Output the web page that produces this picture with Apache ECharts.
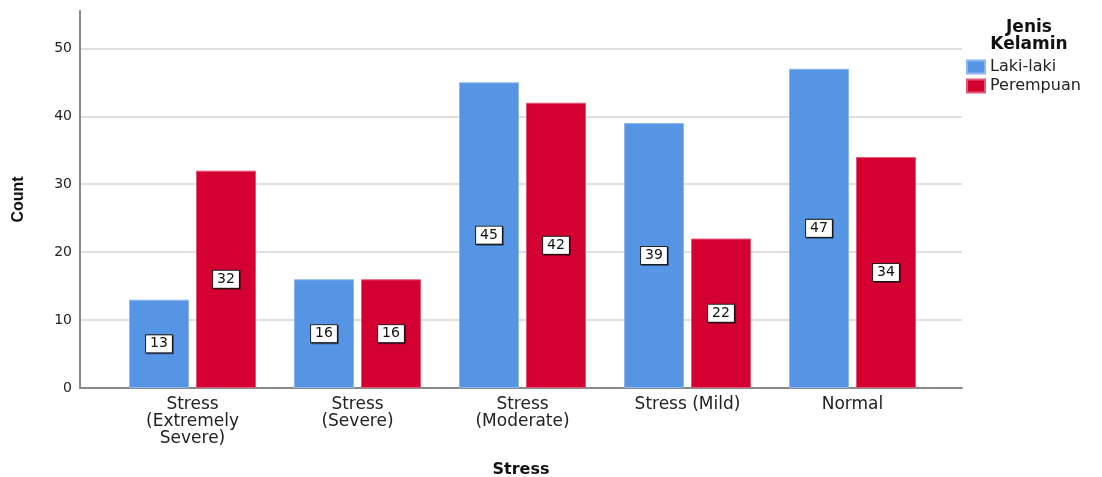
<!DOCTYPE html>
<html>
<head>
<meta charset="utf-8">
<script src="https://cdn.jsdelivr.net/npm/echarts@6/dist/echarts.min.js"></script>
<style>
html,body{margin:0;padding:0;background:#fff;}
#c{width:1102px;height:477px;}
</style>
</head>
<body>
<div id="c"></div>
<script>
const categories = ['Stress\n(Extremely\nSevere)', 'Stress\n(Severe)', 'Stress\n(Moderate)', 'Stress (Mild)', 'Normal'];
const seriesNames = ['Laki-laki', 'Perempuan'];
const lakiLaki = [13, 16, 45, 39, 47];
const perempuan = [32, 16, 42, 22, 34];
const legendTitle = 'Jenis\nKelamin';
const xTitle = 'Stress';
const yTitle = 'Count';

const FONT = 'DejaVu Sans';
const chart = echarts.init(document.getElementById('c'));

const labelStyle = {
  show: true,
  position: 'inside',
  color: '#111',
  fontFamily: FONT,
  fontSize: 14,
  backgroundColor: '#fff',
  borderColor: '#222',
  borderWidth: 1,
  padding: [2, 4, 1, 4],
  shadowColor: 'rgba(0,0,0,0.45)',
  shadowOffsetX: 1,
  shadowOffsetY: 1,
  shadowBlur: 0
};

chart.setOption({
  animation: false,
  backgroundColor: '#fff',
  grid: [
    { left: 80, right: 140, top: 11, bottom: 89, outerBoundsMode: 'none', containLabel: false },
    { left: 110, right: 167, top: 11, bottom: 89, outerBoundsMode: 'none', containLabel: false }
  ],
  xAxis: [
    {
      gridIndex: 0, type: 'value', min: 0, max: 1,
      axisLine: { show: true, lineStyle: { color: '#8a8a8a', width: 2 } },
      axisTick: { show: false }, axisLabel: { show: false }, splitLine: { show: false },
      name: xTitle, nameLocation: 'middle', nameGap: 74,
      nameTextStyle: { fontFamily: FONT, fontWeight: 'bold', fontSize: 16, color: '#111' }
    },
    {
      gridIndex: 1, type: 'category', data: categories,
      axisLine: { show: false }, axisTick: { show: false },
      axisLabel: { interval: 0, margin: 8, fontFamily: FONT, fontSize: 17, lineHeight: 17, color: '#222' }
    }
  ],
  yAxis: [
    {
      gridIndex: 0, type: 'value', min: 0, max: 55.5, interval: 10,
      axisLine: { show: true, lineStyle: { color: '#8a8a8a', width: 2 } },
      axisTick: { show: false },
      axisLabel: { showMaxLabel: false, margin: 8, fontFamily: FONT, fontSize: 14, color: '#222' },
      splitLine: { show: true, showMaxLine: false, lineStyle: { color: '#d6d6d6', width: 1.5 } },
      name: yTitle, nameLocation: 'middle', nameGap: 53, nameRotate: 90,
      nameTextStyle: { fontFamily: 'Liberation Sans', fontWeight: 'bold', fontSize: 16, color: '#111' }
    },
    { gridIndex: 1, type: 'value', min: 0, max: 55.5, show: false }
  ],
  legend: {
    orient: 'vertical', left: 966, top: 59, padding: 0,
    itemWidth: 18, itemHeight: 13, itemGap: 3,
    icon: 'rect',
    data: seriesNames,
    textStyle: { fontFamily: FONT, fontSize: 16, color: '#222', lineHeight: 15 }
  },
  graphic: [
    {
      type: 'text', x: 1029, y: 19,
      style: { text: legendTitle, textAlign: 'center', fill: '#111', font: 'bold 17px "DejaVu Sans"', lineHeight: 17 }
    }
  ],
  series: [
    {
      name: seriesNames[0], type: 'bar', xAxisIndex: 1, yAxisIndex: 1,
      data: lakiLaki, barWidth: 60, barGap: '11.7%',
      itemStyle: { color: '#5694e4', borderColor: '#8fb6ee', borderWidth: 1 },
      label: labelStyle
    },
    {
      name: seriesNames[1], type: 'bar', xAxisIndex: 1, yAxisIndex: 1,
      data: perempuan, barWidth: 60, barGap: '11.7%',
      itemStyle: { color: '#d50032', borderColor: '#e25a78', borderWidth: 1 },
      label: labelStyle
    }
  ]
});
</script>
</body>
</html>
